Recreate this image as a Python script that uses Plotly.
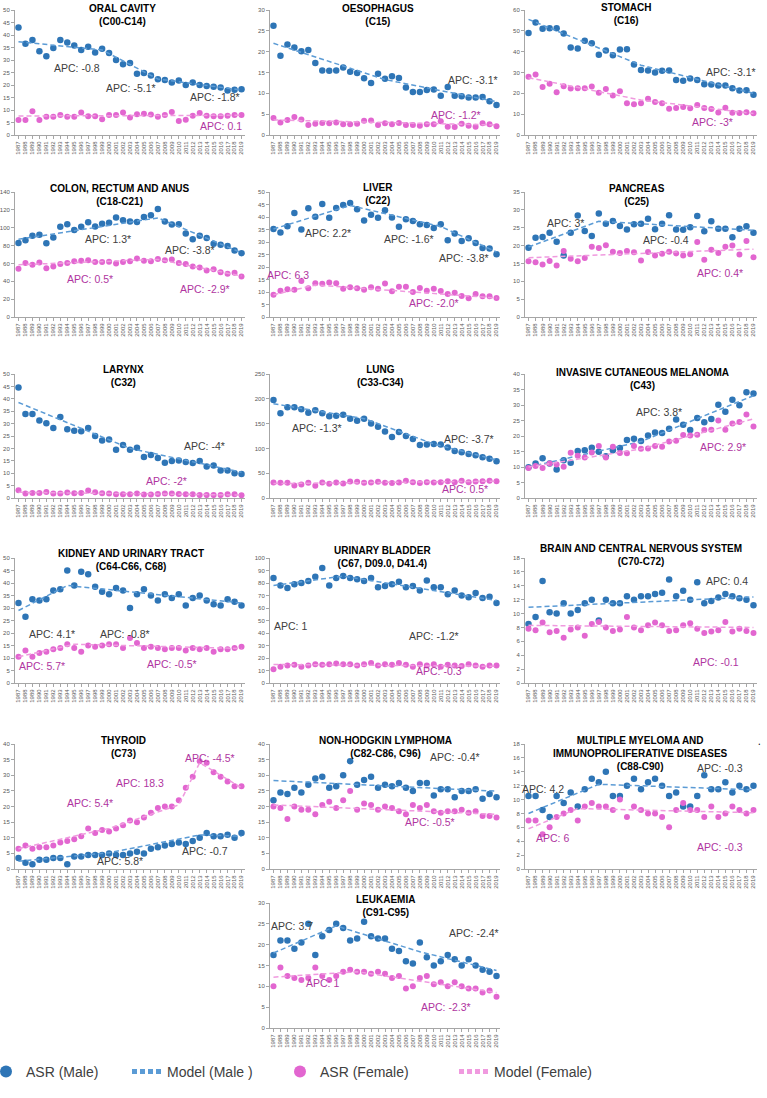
import plotly.graph_objects as go

W, H = 767, 1098
YEARS = list(range(1987, 2020))
YEAR_LABELS = [str(y) for y in YEARS]

# ---------------- data (ASR per 100,000) ----------------
ORAL_M = [43, 36.5, 38, 33.5, 31.5, 34.8, 38, 37, 35.8, 34, 35.3, 33, 34.5, 32.8, 30, 28.3, 28.8,
          24.5, 24.8, 23.8, 22.3, 22, 21, 21.8, 20, 21, 20, 19.6, 19.3, 19, 17.8, 18.1, 18.3]
ORAL_F = [6, 6, 9.5, 6, 7.3, 7.3, 8, 7.3, 7.3, 9, 7.5, 7.5, 6.3, 8, 8, 9, 7, 8.3, 8.5, 8.2, 7.3,
          8, 9.2, 5.6, 6.1, 7.7, 8.8, 7.7, 7.5, 7.5, 7.7, 8, 8]
ORAL_MOD_M_X, ORAL_MOD_M_Y = [1987, 1999, 2007, 2019], [37.3, 34.0, 22.4, 18.0]
ORAL_MOD_F_X, ORAL_MOD_F_Y = [1987, 2019], [7.6, 7.9]

OES_M = [26.2, 19, 21.7, 21, 20.1, 20.4, 17.3, 15.5, 15.4, 15.5, 16.2, 15.2, 14.9, 13.6, 12.5, 14.7,
         13.5, 14.1, 13.7, 11.4, 10.3, 10.3, 10.8, 10.9, 9.4, 11.5, 9.4, 9.3, 9, 9, 9.1, 8.1, 7.2]
OES_F = [4.1, 3.0, 3.6, 4.3, 3.7, 2.4, 2.7, 2.9, 2.8, 3.0, 2.6, 2.6, 2.7, 3.4, 3.5, 2.4, 2.8, 2.6,
         2.9, 2.4, 2.4, 2.2, 2.6, 2.6, 3.3, 2.0, 1.9, 2.7, 2.2, 2.0, 2.8, 2.6, 2.1]
OES_MOD_M_X, OES_MOD_M_Y = [1987, 2003, 2019], [22.0, 13.3, 8.0]
OES_MOD_F_X, OES_MOD_F_Y = [1987, 2019], [3.6, 2.4]

STO_M = [49, 54, 51, 51.2, 51.3, 48.7, 42, 41.5, 45.2, 44, 38.5, 40.6, 38.3, 41, 41.2, 33.8, 31.2,
         31, 30, 30.8, 31, 26.4, 26, 27.1, 26.4, 24.4, 24.3, 23.8, 23.8, 22.4, 21.4, 21.5, 19.3]
STO_F = [28, 29.1, 23, 24.6, 20.5, 23.4, 22.3, 22.5, 22.4, 23.3, 20.3, 22.1, 19, 21, 15.3, 14.8,
         15.3, 17.4, 15.8, 15.3, 12.6, 13, 13.4, 12.9, 14.4, 13, 12.5, 10.8, 13.1, 10.7, 10.6, 10.9, 10.5]
STO_MOD_M_X, STO_MOD_M_Y = [1987, 2003, 2019], [55.5, 33.5, 20.0]
STO_MOD_F_X, STO_MOD_F_Y = [1987, 2003, 2019], [27.5, 16.8, 10.3]

COL_M = [83, 86, 91, 92, 82.5, 89, 101, 104, 97.5, 101, 106, 101.5, 104.5, 105.5, 111.5, 108.5, 107,
         106.5, 112, 114, 121, 107, 103.5, 104, 93.5, 87, 91, 88.5, 82, 81, 79.5, 74.5, 71.5]
COL_F = [54, 60.5, 58.5, 61, 54.5, 56.5, 59.5, 60.5, 62.5, 63, 63.5, 61.5, 61.5, 62, 60, 61.5, 62.5,
         65.5, 63, 62.5, 65, 63.5, 64.5, 60.5, 59.5, 56.5, 55.5, 52, 53.5, 50, 48.5, 49.5, 45.5]
COL_MOD_M_X, COL_MOD_M_Y = [1987, 2007, 2019], [87, 111, 72]
COL_MOD_F_X, COL_MOD_F_Y = [1987, 2007, 2019], [58.5, 64.5, 46]

LIV_M = [35.2, 33.8, 36.3, 41.6, 35, 43.5, 40.1, 45.2, 39.7, 43.6, 44.8, 45.6, 43.1, 38.6, 40.9,
         39.7, 42.7, 39.8, 36.1, 39.1, 38.4, 37.1, 36.8, 35.6, 37.1, 30.7, 33.4, 30.4, 31.5, 29.6,
         27.6, 27.4, 25.1]
LIV_F = [8.9, 10.5, 11.1, 10.9, 14.4, 11.5, 13.5, 13.3, 13.8, 13.5, 11.3, 11.9, 11.5, 10.9, 11.9,
         11.3, 13.4, 10.3, 12.1, 12.1, 10, 11.6, 10.5, 11.3, 10.4, 9.2, 9.7, 8.4, 7.5, 9.2, 8.3, 8.3, 7.6]
LIV_MOD_M_X, LIV_MOD_M_Y = [1987, 1998, 2011, 2019], [35.2, 44.6, 36.2, 26.0]
LIV_MOD_F_X, LIV_MOD_F_Y = [1987, 1993, 2019], [8.9, 12.8, 7.6]

PAN_M = [19.4, 22.2, 22.4, 23.6, 21.1, 17.2, 23.6, 28.4, 24.1, 22.7, 29, 26.1, 26.9, 25.5, 24.5, 26,
         26.1, 27.5, 24.6, 26.1, 28.5, 24.5, 24.4, 25.1, 28.3, 24, 26.8, 24.7, 24.7, 22.3, 24.7, 25.4, 23.6]
PAN_F = [15.6, 15.3, 14.7, 15.7, 14.4, 18.5, 16.3, 15.6, 16.5, 19.7, 19.3, 20.1, 18.3, 17.9, 18.5,
         18.1, 15.8, 18.2, 17.2, 17.7, 18.3, 17.8, 17.2, 17.6, 21, 16, 18.8, 17.9, 19.7, 20, 17.5, 21.3, 16.7]
PAN_MOD_M_X, PAN_MOD_M_Y = [1987, 1997, 2019], [19.6, 26.8, 24.3]
PAN_MOD_F_X, PAN_MOD_F_Y = [1987, 2019], [16.6, 19.0]

LAR_M = [44.6, 33.9, 33.9, 31.3, 30.1, 28.2, 32.7, 27.7, 27.1, 26.9, 28.2, 25, 23.2, 23.6, 19.5,
         21.4, 19.5, 20.3, 16.5, 17.3, 16.1, 14.2, 14.9, 15.1, 14.5, 14.1, 14.9, 12.7, 13.1, 11.1,
         11.1, 10, 9.7]
LAR_F = [3.1, 1.8, 2, 2, 2.4, 1.8, 1.8, 2.2, 1.9, 2, 3, 2.3, 1.9, 1.8, 1.5, 1.5, 1.5, 1.8, 1.4, 1.4,
         1.6, 1.8, 1.8, 1.6, 1.5, 1.5, 1.2, 1.2, 1.2, 1.2, 1.5, 1.5, 1.1]
LAR_MOD_M_X, LAR_MOD_M_Y = [1987, 2003, 2019], [38.5, 20.0, 10.4]
LAR_MOD_F_X, LAR_MOD_F_Y = [1987, 2019], [2.3, 1.2]

LUN_M = [197.8, 171, 183, 183, 179, 172, 177, 171, 165, 166, 168, 160, 155.5, 160, 150, 143.5, 134,
         123, 133, 125, 118.7, 106.7, 108, 108.7, 108, 102, 94.7, 92, 88.7, 86, 82, 79.3, 74]
LUN_F = [31.3, 30.7, 30.7, 25.3, 27.3, 30.7, 24.7, 31.3, 28.7, 31.3, 29.3, 33.3, 32.7, 30.7, 31.3,
         32.7, 30.7, 30, 31.3, 34.7, 32, 30, 32, 31.3, 32, 34, 32, 34.7, 32, 33.3, 34, 34.7, 34]
LUN_MOD_M_X, LUN_MOD_M_Y = [1987, 2000, 2010, 2019], [190, 160, 109, 77]
LUN_MOD_F_X, LUN_MOD_F_Y = [1987, 2019], [29, 34]

MEL_M = [9.9, 11.1, 12.8, 11.1, 9.2, 12.2, 11.4, 15.2, 15.4, 16.2, 14.9, 13.5, 15.4, 16.1, 18.7,
         19.1, 18.4, 20.2, 21.1, 21, 22.3, 25.3, 23.6, 21.9, 25.8, 24.4, 25.5, 30.1, 27.8, 31.7, 29.9,
         34.1, 33.7]
MEL_F = [9.7, 10.3, 9.7, 11.1, 10.8, 10.1, 14.6, 13.6, 13.1, 14.7, 16.8, 13.1, 16.5, 14.5, 14.4,
         16.8, 15.9, 16, 16.8, 16.5, 18.2, 18.5, 20.3, 20.2, 20.4, 21.9, 22, 25, 22, 24, 24.5, 26.9, 23.1]
MEL_MOD_M_X, MEL_MOD_M_Y = [1987, 2003, 2019], [10, 18.2, 33]
MEL_MOD_F_X, MEL_MOD_F_Y = [1987, 2003, 2019], [10, 15.8, 25.5]

KID_M = [32, 26.5, 33.5, 33, 33.5, 37, 37.5, 45, 39, 44.5, 43.5, 38.5, 36.5, 35.5, 38, 37, 30, 35.5,
         37.5, 35, 33, 35.5, 34, 35.5, 31, 34, 35, 33, 31.5, 31, 33.5, 32.5, 31]
KID_F = [10.5, 13, 10.5, 12, 12.5, 13.5, 14, 15.5, 14, 12.5, 15, 14.5, 15, 15.5, 15.5, 14, 18, 16,
         14, 14.5, 14, 13.5, 14, 14, 13, 14, 13.5, 14, 12.5, 13.5, 13.5, 14, 14.5]
KID_MOD_M_X, KID_MOD_M_Y = [1987, 1994, 2019], [29, 39, 32]
KID_MOD_F_X, KID_MOD_F_Y = [1987, 1995, 2019], [10.5, 15.5, 13.8]

BLA_M = [84, 78, 76, 79, 80, 81.5, 85, 92, 78, 84, 85.5, 84, 83, 81.5, 84, 76.5, 77.5, 79, 81, 76.5,
         77.5, 74, 82, 76.5, 76.5, 71, 74, 70, 68.5, 72, 68, 69, 64]
BLA_F = [11, 13, 14, 14.5, 13, 14, 15, 14.5, 15, 15.5, 15, 15, 14, 15, 16, 14, 15, 14.5, 16, 14.5,
         13, 15, 14, 15, 13, 14.5, 14, 13.5, 15, 14, 13, 14, 14]
BLA_MOD_M_X, BLA_MOD_M_Y = [1987, 1997, 2019], [78, 85.5, 66]
BLA_MOD_F_X, BLA_MOD_F_Y = [1987, 2019], [14.8, 13.4]

BRA_M = [8.5, 9.5, 14.7, 10.2, 10, 11.5, 10, 10.5, 11.5, 12, 9, 12, 11.5, 11.5, 12.5, 12, 12.5, 12.5,
         12.8, 13, 14.9, 12.5, 13.3, 12, 14.5, 11.5, 11.8, 12.3, 12.8, 12.5, 12.2, 12, 11.2]
BRA_F = [7.8, 7.6, 8.7, 7.3, 7.5, 6.5, 7.7, 8.0, 6.8, 8.5, 8.8, 8, 7.5, 7.7, 9.5, 8, 7.6, 8.3, 8.7,
         8.3, 7.5, 7.6, 8.3, 8.6, 7.8, 7.2, 7.4, 7.6, 8.8, 7.4, 7.8, 7.5, 7.2]
BRA_MOD_M_X, BRA_MOD_M_Y = [1987, 2019], [10.9, 12.4]
BRA_MOD_F_X, BRA_MOD_F_Y = [1987, 2019], [8.3, 8.0]

THY_M = [3.5, 2, 1.5, 3, 3, 3.5, 3.5, 1.5, 4, 4, 4.5, 4.5, 4.5, 5, 4.5, 4.5, 5, 5.5, 5, 6.5, 7, 7.5,
         8, 8.5, 8, 9, 10, 11.5, 10.5, 10.5, 11, 10, 11.5]
THY_F = [6.5, 7.5, 6.5, 7, 7, 7.5, 8.5, 9, 9.5, 10.5, 13, 11.5, 12.5, 12, 13, 14, 15.5, 15, 16.5, 18,
         19.5, 20, 20, 22, 26, 29.5, 34.5, 34, 31, 29.5, 28, 26.5, 26.5]
THY_MOD_M_X, THY_MOD_M_Y = [1987, 2000, 2013, 2019], [2.5, 5.2, 10.9, 10.5]
THY_MOD_F_X, THY_MOD_F_Y = [1987, 2000, 2010, 2013, 2019], [6.5, 13.0, 20.5, 34, 26]

NHL_M = [22, 24.5, 24, 26, 24.5, 27, 29, 29.5, 26, 26.5, 30, 34.5, 27, 28.5, 29.5, 26, 27, 26.5,
         27.5, 26, 25, 27.5, 27.5, 23.5, 25.5, 25.5, 23, 25, 25, 25.5, 22.5, 24, 23]
NHL_F = [20, 19.5, 16, 20, 19, 19, 17.5, 20.5, 21.5, 19.5, 22, 25, 19, 21, 20.5, 19, 20, 19.5, 18.5,
         17.5, 20.5, 19.5, 20.5, 18.5, 18, 18.5, 18.5, 19, 18, 18.5, 17, 17, 16.5]
NHL_MOD_M_X, NHL_MOD_M_Y = [1987, 2019], [28.3, 24.9]
NHL_MOD_F_X, NHL_MOD_F_Y = [1987, 2019], [20.5, 17.5]

MYE_M = [10.5, 10.5, 8.5, 7.5, 10.5, 9.5, 11, 9, 11.5, 13, 12.5, 14, 10.5, 10.5, 12, 13, 11.5, 12.5,
         13, 12, 10.5, 11, 9, 9, 10.5, 13.5, 11.5, 11.5, 12.5, 11, 12, 11.5, 12]
MYE_F = [7, 7, 5, 6, 7.5, 8, 8.5, 7, 9, 9.5, 9, 9, 8.5, 10, 7.5, 9, 8.5, 8, 8, 7.5, 6, 8.5, 9.5, 8.5,
         8.5, 7.5, 9, 7.5, 8, 9, 8.5, 8, 8.5]
MYE_MOD_M_X, MYE_MOD_M_Y = [1987, 1997, 2019], [8.0, 12.2, 11.4]
MYE_MOD_F_X, MYE_MOD_F_Y = [1987, 1994, 2019], [5.8, 8.7, 8.1]

LEU_M = [17.5, 21, 21, 19, 20.5, 25, 17.5, 22, 23.5, 25, 24, 21, 21.5, 25.5, 22, 21.5, 21.5, 19,
         18.5, 16, 15.5, 20.5, 17, 15, 16, 17.5, 16.5, 15, 16.5, 15, 14, 13.5, 12.5]
LEU_F = [10, 14.5, 12.5, 12, 11.5, 12, 14.5, 12.5, 11.5, 12.5, 13.5, 14, 13.5, 13.5, 13, 13.5, 13,
         12, 12.5, 9.5, 10, 12, 12.5, 10.5, 11, 10, 11, 10, 9.5, 9.5, 8.5, 9, 7.5]
LEU_MOD_M_X, LEU_MOD_M_Y = [1987, 1996, 2008, 2019], [18, 24.5, 18.3, 13.8]
LEU_MOD_F_X, LEU_MOD_F_Y = [1987, 1999, 2019], [12.2, 13.5, 8.5]

# APC labels: (year, value, text, sex)
ORAL_APC = [(1995.4, 26.7, "APC: -0.8", "m"), (2003.2, 18.7, "APC: -5.1*", "m"),
            (2015.2, 15, "APC: -1.8*", "m"), (2016.1, 3.6, "APC: 0.1", "f")]
OES_APC = [(2015.6, 13.2, "APC: -3.1*", "m"), (2013.2, 4.8, "APC: -1.2*", "f")]
STO_APC = [(2015.8, 30.2, "APC: -3.1*", "m"), (2013.1, 6, "APC: -3*", "f")]
COL_APC = [(1999.9, 87, "APC: 1.3*", "m"), (2011.6, 75, "APC: -3.8*", "m"),
           (1997.3, 43, "APC: 0.5*", "f"), (2013.7, 31.4, "APC: -2.9*", "f")]
LIV_APC = [(1994.8, 33.4, "APC: 2.2*", "m"), (2006.5, 31, "APC: -1.6*", "m"),
           (2014.4, 23.5, "APC: -3.8*", "m"), (1989.1, 16.7, "APC: 6.3", "f"),
           (2010, 5.6, "APC: -2.0*", "f")]
PAN_APC = [(1992.2, 26.3, "APC: 3*", "m"), (2006.5, 21.5, "APC: -0.4", "m"),
           (2014.2, 12.4, "APC: 0.4*", "f")]
LAR_APC = [(2013.7, 20.9, "APC: -4*", "m"), (2008.3, 6.8, "APC: -2*", "f")]
LUN_APC = [(1993.2, 140.8, "APC: -1.3*", "m"), (2015.1, 119, "APC: -3.7*", "m"),
           (2014.5, 18.7, "APC: 0.5*", "f")]
MEL_APC = [(2005.5, 27.6, "APC: 3.8*", "m"), (2014.6, 16.5, "APC: 2.9*", "f")]
KID_APC = [(1991.8, 19.5, "APC: 4.1*", "m"), (2002.3, 19.5, "APC: -0.8*", "m"),
           (1990.4, 7.0, "APC: 5.7*", "f"), (2009.0, 7.5, "APC: -0.5*", "f")]
BLA_APC = [(1989.4, 46, "APC: 1", "m"), (2010, 38, "APC: -1.2*", "m"),
           (2010.8, 10, "APC: -0.3", "f")]
BRA_APC = [(2015.3, 14.7, "APC: 0.4", "m"), (2013.6, 3, "APC: -0.1", "f")]
THY_APC = [(1997.3, 21, "APC: 5.4*", "f"), (2004.4, 27.5, "APC: 18.3", "f"),
           (2014.5, 35.5, "APC: -4.5*", "f"), (2001.6, 2.5, "APC: 5.8*", "m"),
           (2013.7, 5.8, "APC: -0.7", "m")]
NHL_APC = [(2013, 36, "APC: -0.4*", "m"), (2009.4, 15, "APC: -0.5*", "f")]
MYE_APC = [(1989, 11.5, "APC: 4.2", "m"), (2014.3, 14.5, "APC: -0.3", "m"),
           (1990.4, 4.4, "APC: 6", "f"), (2014.3, 3.2, "APC: -0.3", "f")]
LEU_APC = [(1989.7, 24.5, "APC: 3.7", "m"), (2015.8, 22.8, "APC: -2.4*", "m"),
           (1994, 10.8, "APC: 1", "f"), (2011.8, 5, "APC: -2.3*", "f")]

TITLES = ["ORAL CAVITY<br>(C00-C14)", "OESOPHAGUS<br>(C15)", "STOMACH<br>(C16)",
          "COLON, RECTUM AND ANUS<br>(C18-C21)", "LIVER<br>(C22)", "PANCREAS<br>(C25)",
          "LARYNX<br>(C32)", "LUNG<br>(C33-C34)", "INVASIVE CUTANEOUS MELANOMA<br>(C43)",
          "KIDNEY AND URINARY TRACT<br>(C64-C66, C68)", "URINARY BLADDER<br>(C67, D09.0, D41.4)",
          "BRAIN AND CENTRAL NERVOUS SYSTEM<br>(C70-C72)", "THYROID<br>(C73)",
          "NON-HODGKIN LYMPHOMA<br>(C82-C86, C96)",
          "MULTIPLE MYELOMA AND<br>IMMUNOPROLIFERATIVE DISEASES<br>(C88-C90)",
          "LEUKAEMIA<br>(C91-C95)"]
Y_MAX = [50, 30, 60, 140, 50, 35, 50, 250, 40, 50, 100, 18, 40, 40, 18, 30]
Y_DTICK = [5, 5, 10, 20, 5, 5, 5, 50, 5, 5, 10, 2, 5, 5, 2, 5]

# ---------------- layout geometry (pixels) ----------------
COLS = [(15, 245), (270, 500), (525, 757)]
ROWS = [(10, 135), (192, 317), (374, 498), (558, 683), (744, 869), (903, 1028)]
POS = [(0, 0), (0, 1), (0, 2), (1, 0), (1, 1), (1, 2), (2, 0), (2, 1), (2, 2),
       (3, 0), (3, 1), (3, 2), (4, 0), (4, 1), (4, 2), (5, 1)]
TITLE_X = [122, 378, 626, 120, 378, 637, 123, 380, 642, 131, 382, 641, 123, 385, 640, 385]
TITLE_Y = [7, 7, 6, 187, 186, 187, 368, 368, 371, 552, 549, 547, 739, 739, 739, 898]

PANELS = [
    (ORAL_M, ORAL_F, ORAL_MOD_M_X, ORAL_MOD_M_Y, ORAL_MOD_F_X, ORAL_MOD_F_Y, ORAL_APC),
    (OES_M, OES_F, OES_MOD_M_X, OES_MOD_M_Y, OES_MOD_F_X, OES_MOD_F_Y, OES_APC),
    (STO_M, STO_F, STO_MOD_M_X, STO_MOD_M_Y, STO_MOD_F_X, STO_MOD_F_Y, STO_APC),
    (COL_M, COL_F, COL_MOD_M_X, COL_MOD_M_Y, COL_MOD_F_X, COL_MOD_F_Y, COL_APC),
    (LIV_M, LIV_F, LIV_MOD_M_X, LIV_MOD_M_Y, LIV_MOD_F_X, LIV_MOD_F_Y, LIV_APC),
    (PAN_M, PAN_F, PAN_MOD_M_X, PAN_MOD_M_Y, PAN_MOD_F_X, PAN_MOD_F_Y, PAN_APC),
    (LAR_M, LAR_F, LAR_MOD_M_X, LAR_MOD_M_Y, LAR_MOD_F_X, LAR_MOD_F_Y, LAR_APC),
    (LUN_M, LUN_F, LUN_MOD_M_X, LUN_MOD_M_Y, LUN_MOD_F_X, LUN_MOD_F_Y, LUN_APC),
    (MEL_M, MEL_F, MEL_MOD_M_X, MEL_MOD_M_Y, MEL_MOD_F_X, MEL_MOD_F_Y, MEL_APC),
    (KID_M, KID_F, KID_MOD_M_X, KID_MOD_M_Y, KID_MOD_F_X, KID_MOD_F_Y, KID_APC),
    (BLA_M, BLA_F, BLA_MOD_M_X, BLA_MOD_M_Y, BLA_MOD_F_X, BLA_MOD_F_Y, BLA_APC),
    (BRA_M, BRA_F, BRA_MOD_M_X, BRA_MOD_M_Y, BRA_MOD_F_X, BRA_MOD_F_Y, BRA_APC),
    (THY_M, THY_F, THY_MOD_M_X, THY_MOD_M_Y, THY_MOD_F_X, THY_MOD_F_Y, THY_APC),
    (NHL_M, NHL_F, NHL_MOD_M_X, NHL_MOD_M_Y, NHL_MOD_F_X, NHL_MOD_F_Y, NHL_APC),
    (MYE_M, MYE_F, MYE_MOD_M_X, MYE_MOD_M_Y, MYE_MOD_F_X, MYE_MOD_F_Y, MYE_APC),
    (LEU_M, LEU_F, LEU_MOD_M_X, LEU_MOD_M_Y, LEU_MOD_F_X, LEU_MOD_F_Y, LEU_APC),
]

BLUE = "#2E75B6"
BLUE_LINE = "#5B9BD5"
PINK = "#E266D0"
PINK_LINE = "#F09ADF"
MALE_TXT = "#404040"
FEMALE_TXT = "#B0359F"
FONT = "Liberation Sans, Arial, sans-serif"
AX_COL = "#A6A6A6"
DASH = "5px,3px"


def px_x(x):
    return x / W


def px_y(y):
    return 1 - y / H


fig = go.Figure()
layout = {}
annotations = []

for i, (m, f, mmx, mmy, mfx, mfy, apcs) in enumerate(PANELS):
    s = "" if i == 0 else str(i + 1)
    r, c = POS[i]
    x0, x1 = COLS[c]
    y0, y1 = ROWS[r]
    layout["xaxis" + s] = dict(
        domain=[px_x(x0), px_x(x1)], anchor="y" + s, range=[1986.5, 2019.5],
        tickvals=YEARS, ticktext=YEAR_LABELS, tickangle=-90,
        tickfont=dict(size=6, color="#595959", family=FONT),
        showline=True, linecolor=AX_COL, linewidth=1, ticks="outside", ticklen=3,
        tickcolor=AX_COL, showgrid=False, zeroline=False)
    layout["yaxis" + s] = dict(
        domain=[px_y(y1), px_y(y0)], anchor="x" + s, range=[0, Y_MAX[i]],
        dtick=Y_DTICK[i], tick0=0,
        tickfont=dict(size=6, color="#595959", family=FONT),
        showline=True, linecolor=AX_COL, linewidth=1, ticks="outside", ticklen=3,
        tickcolor=AX_COL, showgrid=False, zeroline=False)
    first = i == 0
    fig.add_trace(go.Scatter(x=YEARS, y=m, mode="markers", name="ASR (Male)",
                             marker=dict(color=BLUE, size=6.5), xaxis="x" + s, yaxis="y" + s,
                             showlegend=first, legend="legend"))
    fig.add_trace(go.Scatter(x=mmx, y=mmy, mode="lines", name="Model (Male )",
                             line=dict(color=BLUE_LINE, width=1.5, dash=DASH),
                             xaxis="x" + s, yaxis="y" + s, showlegend=first, legend="legend2"))
    fig.add_trace(go.Scatter(x=YEARS, y=f, mode="markers", name="ASR (Female)",
                             marker=dict(color=PINK, size=6), xaxis="x" + s, yaxis="y" + s,
                             showlegend=first, legend="legend3"))
    fig.add_trace(go.Scatter(x=mfx, y=mfy, mode="lines", name="Model (Female)",
                             line=dict(color=PINK_LINE, width=1.5, dash=DASH),
                             xaxis="x" + s, yaxis="y" + s, showlegend=first, legend="legend4"))
    for (ax, ay, txt, sex) in apcs:
        annotations.append(dict(x=ax, y=ay, xref="x" + s, yref="y" + s, text=txt,
                                showarrow=False,
                                font=dict(size=10.5, family=FONT,
                                          color=MALE_TXT if sex == "m" else FEMALE_TXT)))
    annotations.append(dict(x=px_x(TITLE_X[i]), y=px_y(TITLE_Y[i] - 6), xref="paper",
                            yref="paper", text="<b>" + TITLES[i] + "</b>", showarrow=False,
                            xanchor="center", yanchor="top",
                            font=dict(size=10, family=FONT, color="#000000")))

annotations.append(dict(x=px_x(763), y=px_y(750), xref="paper", yref="paper", text=".",
                        showarrow=False, font=dict(size=10, color="#000")))

leg_common = dict(orientation="h", yanchor="middle", y=px_y(1072), xanchor="left",
                  bgcolor="rgba(0,0,0,0)", font=dict(size=14, family=FONT, color="#404040"),
                  itemsizing="constant")
layout["legend"] = dict(x=px_x(-14), **leg_common)
layout["legend2"] = dict(x=px_x(127), **leg_common)
layout["legend3"] = dict(x=px_x(280), **leg_common)
layout["legend4"] = dict(x=px_x(454), **leg_common)

fig.update_layout(
    width=W, height=H, margin=dict(l=0, r=0, t=0, b=0, autoexpand=False),
    paper_bgcolor="white", plot_bgcolor="white",
    annotations=annotations, **layout)

fig.write_html("out.html", config={"displayModeBar": False},
               post_script="document.body.style.margin='0px';")
